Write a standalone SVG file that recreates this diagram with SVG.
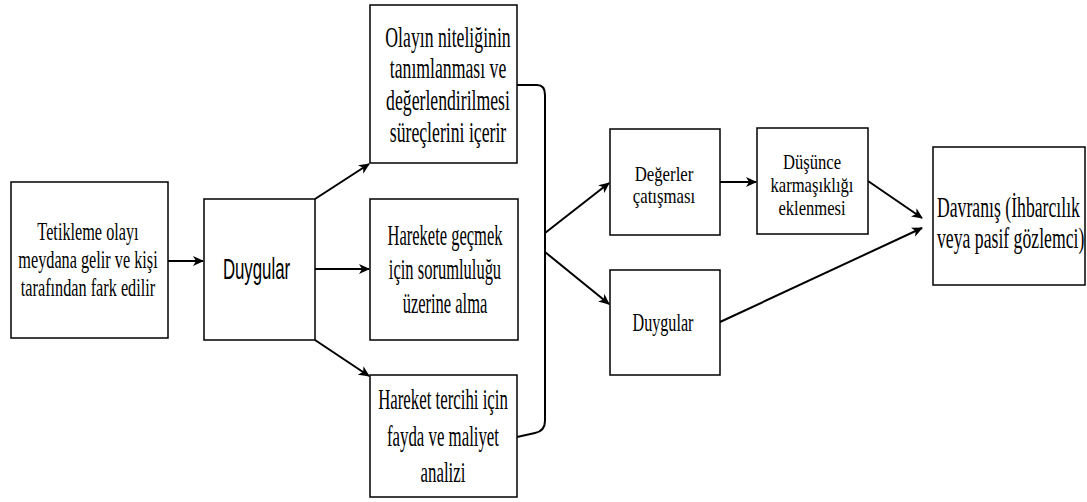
<svg xmlns="http://www.w3.org/2000/svg" width="1087" height="502" viewBox="0 0 1087 502">
<style>
.box{fill:#fff;stroke:#000;stroke-width:1.5}
.t{font-family:"Liberation Serif","Times New Roman",serif;fill:#000;text-anchor:middle}
.st{font-family:"Liberation Serif","Times New Roman",serif;fill:#000;text-anchor:start}
.s{font-family:"Liberation Sans",Arial,sans-serif;fill:#000;text-anchor:middle}
.c{fill:none;stroke:#000;stroke-width:2}
</style>
<defs>
<marker id="ah" markerUnits="userSpaceOnUse" markerWidth="11" markerHeight="10" refX="10" refY="5" orient="auto">
<path d="M0,0 L11,5 L0,10 L3,5 z" fill="#000"/>
</marker>
</defs>
<rect width="1087" height="502" fill="#fff"/>
<g id="connectors">
<line class="c" x1="168" y1="261" x2="203" y2="261" marker-end="url(#ah)"/>
<line class="c" x1="315" y1="199" x2="369" y2="164" marker-end="url(#ah)"/>
<line class="c" x1="315" y1="269" x2="369" y2="269" marker-end="url(#ah)"/>
<line class="c" x1="315" y1="340" x2="369" y2="376" marker-end="url(#ah)"/>
<path class="c" d="M517,85 L537,85 Q545,85 545,95 L545,421 Q545,431 535,433 L517,437"/>
<line class="c" x1="545" y1="233" x2="609" y2="183" marker-end="url(#ah)"/>
<line class="c" x1="545" y1="252" x2="609" y2="304" marker-end="url(#ah)"/>
<line class="c" x1="720" y1="182" x2="756" y2="182" marker-end="url(#ah)"/>
<line class="c" x1="868" y1="181" x2="922" y2="218" marker-end="url(#ah)"/>
<line class="c" x1="720" y1="322" x2="922" y2="228" marker-end="url(#ah)"/>
</g>
<g id="n1">
<rect class="box" x="11" y="182" width="157" height="156"/>
<g transform="translate(88,0) scale(0.625,1)" class="t" font-size="26">
<text x="0" y="240">Tetikleme olayı</text>
<text x="0" y="268">meydana gelir ve kişi</text>
<text x="0" y="296">tarafından fark edilir</text>
</g>
</g>
<g id="n2">
<rect class="box" x="204" y="199" width="111" height="141"/>
<g transform="translate(256.5,0) scale(0.56,1)" class="s" font-size="30">
<text x="0" y="279">Duygular</text>
</g>
</g>
<g id="n3">
<rect class="box" x="370" y="5" width="147" height="158"/>
<g transform="translate(448,0) scale(0.59,1)" class="t" font-size="30">
<text x="0" y="47">Olayın niteliğinin</text>
<text x="0" y="78">tanımlanması ve</text>
<text x="0" y="110">değerlendirilmesi</text>
<text x="0" y="142">süreçlerini içerir</text>
</g>
</g>
<g id="n4">
<rect class="box" x="370" y="199" width="148" height="141"/>
<g transform="translate(445,0) scale(0.55,1)" class="t" font-size="30">
<text x="0" y="245">Harekete geçmek</text>
<text x="0" y="279">için sorumluluğu</text>
<text x="0" y="313">üzerine alma</text>
</g>
</g>
<g id="n5">
<rect class="box" x="370" y="375" width="147" height="122"/>
<g transform="translate(443,0) scale(0.58,1)" class="t" font-size="29">
<text x="0" y="409">Hareket tercihi için</text>
<text x="0" y="446">fayda ve maliyet</text>
<text x="0" y="482">analizi</text>
</g>
</g>
<g id="n6">
<rect class="box" x="610" y="129" width="110" height="106"/>
<g transform="translate(664,0) scale(0.84,1)" class="t" font-size="20">
<text x="0" y="181">Değerler</text>
<text x="0" y="203">çatışması</text>
</g>
</g>
<g id="n7">
<rect class="box" x="610" y="270" width="110" height="105"/>
<g transform="translate(663,0) scale(0.62,1)" class="t" font-size="26">
<text x="0" y="331">Duygular</text>
</g>
</g>
<g id="n8">
<rect class="box" x="757" y="128" width="111" height="106"/>
<g transform="translate(812,0) scale(0.83,1)" class="t" font-size="20">
<text x="0" y="169">Düşünce</text>
<text x="0" y="192">karmaşıklığı</text>
<text x="0" y="215">eklenmesi</text>
</g>
</g>
<g id="n9">
<rect class="box" x="933" y="147" width="152" height="138"/>
<g transform="translate(937,0) scale(0.61,1)" class="st" font-size="29">
<text x="0" y="217">Davranış (İhbarcılık</text>
<text x="0" y="248">veya pasif gözlemci)</text>
</g>
</g>
</svg>
